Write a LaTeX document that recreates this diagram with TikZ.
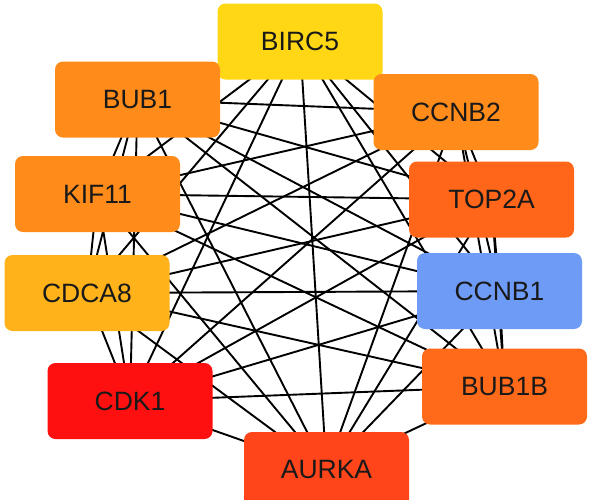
\documentclass[tikz,border=0pt]{standalone}
\usepackage{fontspec}
\setmainfont{Liberation Sans}
\usetikzlibrary{backgrounds}
\definecolor{cBIRC}{RGB}{255,215,20}
\definecolor{cOr}{RGB}{255,140,26}
\definecolor{cTop}{RGB}{255,102,25}
\definecolor{cCdca}{RGB}{255,178,26}
\definecolor{cBlue}{RGB}{110,155,245}
\definecolor{cRed}{RGB}{255,16,16}
\definecolor{cBub}{RGB}{255,106,26}
\definecolor{cAur}{RGB}{255,69,25}
\tikzset{
  gene/.style={rectangle, rounded corners=8pt, minimum width=165pt, minimum height=76pt,
    inner sep=0pt, font=\fontsize{26.5}{30}\selectfont, text=black!90},
  link/.style={draw=black, line width=1.9pt}
}
\begin{document}
\begin{tikzpicture}[x=1pt,y=-1pt]
\useasboundingbox (0,0) rectangle (590,499);
\clip (0,0) rectangle (590,499);
\node[gene, fill=cBIRC] (n1) at (300,41.5) {BIRC5};
\node[gene, fill=cOr] (n2) at (456,112) {CCNB2};
\node[gene, fill=cTop] (n3) at (491.5,199.5) {TOP2A};
\node[gene, fill=cBlue] (n4) at (499.5,291) {CCNB1};
\node[gene, fill=cBub] (n5) at (504.5,386.5) {BUB1B};
\node[gene, fill=cAur] (n6) at (326.5,470) {AURKA};
\node[gene, fill=cRed] (n7) at (130,401) {CDK1};
\node[gene, fill=cCdca] (n8) at (87,293) {CDCA8};
\node[gene, fill=cOr] (n9) at (97.5,194) {KIF11};
\node[gene, fill=cOr] (n10) at (137.5,99.5) {BUB1};
\begin{pgfonlayer}{background}
\fill[white] (0,0) rectangle (590,499);
\foreach \i in {1,...,10}{
  \foreach \j in {1,...,10}{
    \ifnum\j>\i
      \draw[link] (n\i.center) -- (n\j.center);
    \fi
  }
}
\end{pgfonlayer}
\end{tikzpicture}
\end{document}
